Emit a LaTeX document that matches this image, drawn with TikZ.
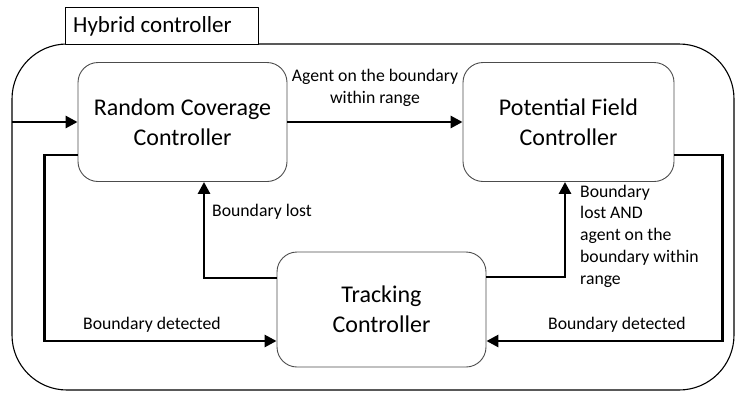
\documentclass[tikz,border=0pt]{standalone}
\usepackage{fontspec}
\setmainfont{Carlito}
\usetikzlibrary{arrows.meta}
\begin{document}
\begin{tikzpicture}[x=1pt, y=-1pt, line cap=round, line join=round]
% Hybrid controller state diagram
\providecommand{\hcBoxColor}{black!70}
\providecommand{\hcArrowWidth}{2.8pt}
\providecommand{\hcBoxRadius}{20pt}
\tikzset{
  ctrlbox/.style={draw=\hcBoxColor, line width=0.9pt, rounded corners=\hcBoxRadius,
    align=center, font=\fontsize{24}{30}\selectfont, inner sep=0pt},
  flow/.style={draw=black, line width=\hcArrowWidth, line cap=butt, line join=miter,
    -{Triangle[length=12pt,width=12pt]}},
  cond/.style={font=\fontsize{17.7}{21.7}\selectfont, inner sep=0pt},
}
\useasboundingbox (0,0) rectangle (739,394);
% Outer frame and title tab
\draw[line width=1.1pt, rounded corners=55pt] (12,44) rectangle (734,390);
\draw[fill=white, line width=1pt] (65,7) rectangle (258,44);
\node[anchor=west, inner sep=0pt, font=\fontsize{23}{26}\selectfont] (title) at (73,26) {Hybrid controller};
% Controllers
\node[ctrlbox, minimum width=209pt, minimum height=119pt] (rc) at (182.5,122) {Random Coverage\\Controller};
\node[ctrlbox, minimum width=211pt, minimum height=119pt] (pf) at (568.5,122) {Potential Field\\Controller};
\node[ctrlbox, minimum width=209pt, minimum height=115pt] (tc) at (381.5,309.5) {Tracking\\Controller};
\coordinate (in) at (12,122);
% Transitions
\draw[flow] (in) -- (rc.west);
\draw[flow] (rc.east) -- (pf.west);
\draw[flow] ([yshift=-33pt]rc.west) -- ++(-33,0) |- ([yshift=-31.5pt]tc.west);
\draw[flow] ([yshift=31.5pt]tc.west) -| ([xshift=21.5pt]rc.south);
\draw[flow] ([yshift=32.5pt]tc.east) -| ([xshift=-3.5pt]pf.south);
\draw[flow] ([yshift=-33pt]pf.east) -- ++(48,0) |- ([yshift=-31.5pt]tc.east);
% Conditions
\node[cond, align=center] (c1) at (375,88) {Agent on the boundary\\within range};
\node[cond, anchor=west] (c2) at (212,212) {Boundary lost};
\node[cond, anchor=west, align=left] (c3) at (580,236) {Boundary\\lost AND\\agent on the\\boundary within\\range};
\node[cond, anchor=west] (c4) at (83,325) {Boundary detected};
\node[cond, anchor=west] (c5) at (548,325) {Boundary detected};
\end{tikzpicture}
\end{document}
